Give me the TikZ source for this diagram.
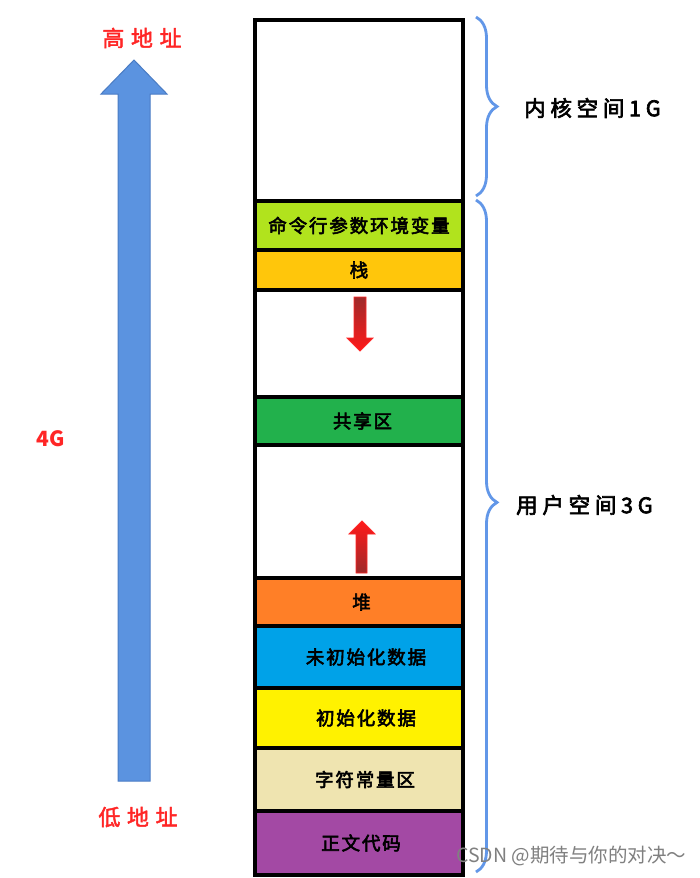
\documentclass[tikz,border=0pt]{standalone}
\usepackage{fontspec}
\newfontfamily\cjk[FakeBold=3,LetterSpace=10]{Noto Sans CJK SC}
\newfontfamily\cjkbig[FakeBold=3,LetterSpace=22]{Noto Sans CJK SC}
\newfontfamily\cjkred[FakeBold=2,LetterSpace=30]{Noto Sans CJK SC}
\newfontfamily\cjkwm{Noto Sans CJK SC}
\usetikzlibrary{decorations.pathreplacing,shadings}
\definecolor{envgreen}{HTML}{B1E31D}
\definecolor{stackor}{HTML}{FFC60B}
\definecolor{sharegreen}{HTML}{22B14C}
\definecolor{heapor}{HTML}{FF7F27}
\definecolor{bssblue}{HTML}{00A2E8}
\definecolor{datayel}{HTML}{FFF200}
\definecolor{rocream}{HTML}{EFE4B0}
\definecolor{textpur}{HTML}{A349A4}
\definecolor{arrowblue}{HTML}{5B93E0}
\definecolor{arrowedge}{HTML}{4A7CC4}
\definecolor{braceblue}{HTML}{6297E8}
\definecolor{labelred}{HTML}{FF2626}
\definecolor{darkred}{HTML}{9E2B2B}
\begin{document}
\begin{tikzpicture}[x=1pt,y=-1pt,
  cell/.style={draw=black, line width=3.2pt, minimum width=208pt, inner sep=0pt, outer sep=0pt, anchor=north, font=\cjk\fontsize{18.5}{18.5}\selectfont},
  redlabel/.style={text=labelred, inner sep=0pt, font=\cjkred\fontsize{22}{22}\selectfont},
  sidelabel/.style={inner sep=0pt, anchor=west, font=\cjkbig\fontsize{21.5}{21.5}\selectfont},
  bracestyle/.style={draw=braceblue, line width=2.8pt, decorate, decoration={brace, amplitude=21pt}},
  redarrow/.style={draw=red!85!white, line width=0.8pt}]
\useasboundingbox (0,0) rectangle (700,878);
\fill[white] (0,0) rectangle (700,878);
% memory column
\node[cell, minimum height=181pt] (kernel) at (359,20) {};
\node[cell, fill=envgreen, minimum height=49pt] (env) at (359,201) {命令行参数环境变量};
\node[cell, fill=stackor, minimum height=40pt] (stack) at (359,250) {栈};
\node[cell, minimum height=107pt] (gapa) at (359,290) {};
\node[cell, fill=sharegreen, minimum height=48pt] (shared) at (359,397) {\hspace*{7pt}共享区};
\node[cell, minimum height=133pt] (gapb) at (359,445) {};
\node[cell, fill=heapor, minimum height=48pt] (heap) at (359,578) {\hspace*{5pt}堆};
\node[cell, fill=bssblue, minimum height=62pt] (bss) at (359,626) {\hspace*{14pt}未初始化数据};
\node[cell, fill=datayel, minimum height=60pt] (data) at (359,688) {\hspace*{14pt}初始化数据};
\node[cell, fill=rocream, minimum height=63pt] (rodata) at (359,748) {\hspace*{12pt}字符常量区};
\node[cell, fill=textpur, minimum height=64pt] (textseg) at (359,811) {\hspace*{4pt}正文代码};
% big blue arrow
\filldraw[fill=arrowblue, draw=arrowedge, line width=1pt]
  (118,781) -- (118,94) -- (101,94) -- (134,60) -- (167,94) -- (150,94) -- (150,781) -- cycle;
\node[redlabel] (high) at (142,38) {高地址};
\node[redlabel] (low) at (138,817) {低地址};
\node[text=labelred, inner sep=0pt, font=\cjkwm\bfseries\fontsize{21}{21}\selectfont] (four) at (51,439) {4G};
% small red arrows
\shade[redarrow, top color=darkred, bottom color=red!90!white]
  (354,297) -- (366,297) -- (366,338) -- (373,338) -- (360,351) -- (347,338) -- (354,338) -- cycle;
\shade[redarrow, top color=red!90!white, bottom color=darkred]
  (356,573) -- (367,573) -- (367,534) -- (375,534) -- (362,521) -- (349,534) -- (356,534) -- cycle;
% braces
\coordinate (kb1) at (476,17);
\coordinate (kb2) at (476,196);
\coordinate (ub1) at (476,200);
\coordinate (ub2) at (476,872);
\draw[bracestyle] (kb1) -- (kb2);
\draw[bracestyle, decoration={aspect=0.45}] (ub1) -- (ub2);
\node[sidelabel] (klabel) at (524,108) {内核空间1G};
\node[sidelabel] (ulabel) at (516,505) {用户空间3G};
% watermark
\node[text=black!50, inner sep=0pt, anchor=west, font=\cjkwm\fontsize{19.5}{19.5}\selectfont] (wm) at (456,856) {CSDN @期待与你的对决～};
\end{tikzpicture}
\end{document}
